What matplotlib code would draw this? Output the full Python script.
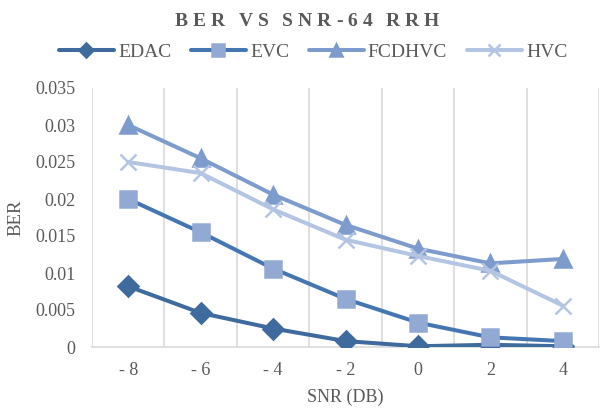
#!/usr/bin/env python3
"""BER vs SNR chart for 64 RRH, Excel-like line chart with markers."""

import matplotlib
matplotlib.use("Agg")
import matplotlib.pyplot as plt
from matplotlib.ticker import FixedLocator

snr_labels = ["- 8", "- 6", "- 4", "- 2", "0", "2", "4"]
edac = [0.0082, 0.0046, 0.0025, 0.0008, 0.0001, 0.0003, 0.0001]
evc = [0.0200, 0.0155, 0.0106, 0.0065, 0.0033, 0.0013, 0.0008]
fcdhvc = [0.0300, 0.0255, 0.0206, 0.0165, 0.0133, 0.0113, 0.0119]
hvc = [0.0250, 0.0235, 0.0186, 0.0145, 0.0123, 0.0103, 0.0056]
y_ticks = [0, 0.005, 0.01, 0.015, 0.02, 0.025, 0.03, 0.035]
y_tick_labels = ["0", "0.005", "0.01", "0.015", "0.02", "0.025", "0.03", "0.035"]

TEXT = "#595959"
GRID = "#D9D9D9"
W, H = 600, 408

plt.rcParams["font.family"] = ["Liberation Serif", "DejaVu Serif"]

fig = plt.figure(figsize=(W / 100, H / 100), dpi=100)
ax = fig.add_axes([92 / W, 1 - 347 / H, 507 / W, 259 / H])

x = list(range(len(snr_labels)))
series = [
    ("EDAC", edac, "#3F6A9E", "#3F6A9E", "D", 10),
    ("EVC", evc, "#4676B2", "#92A9D4", "s", 11.5),
    ("FCDHVC", fcdhvc, "#7D9BCC", "#7D9BCC", "^", 12),
    ("HVC", hvc, "#B4C5E3", "#B4C5E3", "x", 11),
]
for name, vals, lc, mc, mk, ms in series:
    ax.plot(x, vals, color=lc, lw=2.9, marker=mk, markersize=ms,
            markerfacecolor=mc, markeredgecolor=mc, markeredgewidth=1.8,
            label=name, solid_capstyle="round", zorder=3)

ax.set_xlim(-0.5, len(x) - 0.5)
ax.set_ylim(0, 0.035)
ax.set_xticks(x)
ax.set_xticklabels(snr_labels)
ax.xaxis.set_minor_locator(FixedLocator([i - 0.5 for i in range(len(x) + 1)]))
ax.grid(True, which="minor", axis="x", color=GRID, lw=1.2, zorder=0)
ax.set_yticks(y_ticks)
ax.set_yticklabels(y_tick_labels)

for s in ["top", "right", "left"]:
    ax.spines[s].set_visible(False)
ax.spines["bottom"].set_color(GRID)
ax.spines["bottom"].set_linewidth(1.2)
ax.tick_params(axis="both", which="both", length=0, colors=TEXT, labelsize=13)
ax.tick_params(axis="x", pad=11)
ax.tick_params(axis="y", pad=12)

ax.set_xlabel("SNR (DB)", color=TEXT, fontsize=13, labelpad=7)
ax.set_ylabel("BER", color=TEXT, fontsize=13.5, labelpad=8)

# title with letter spacing, drawn char by char
title = "BER VS SNR-64 RRH"
renderer = fig.canvas.get_renderer()
spacing = 4.9
pieces = []
total = 0.0
for ch in title:
    t = fig.text(0, 0, ch, fontsize=14, fontweight="bold", color=TEXT)
    w = t.get_window_extent(renderer).width if ch != " " else 4.0
    pieces.append((t, w))
    total += w + spacing
total -= spacing
cx = 307 - total / 2
for t, w in pieces:
    t.set_position((cx / W, 1 - 21 / H))
    t.set_va("center")
    cx += w + spacing

fig.legend(loc="center", bbox_to_anchor=(313 / W, 1 - 52 / H), ncol=4,
           frameon=False, fontsize=14, labelcolor=TEXT, handlelength=2.85,
           columnspacing=1.0, handletextpad=0.2, borderpad=0,
           markerscale=0.75)

fig.savefig("out.png", dpi=100)
